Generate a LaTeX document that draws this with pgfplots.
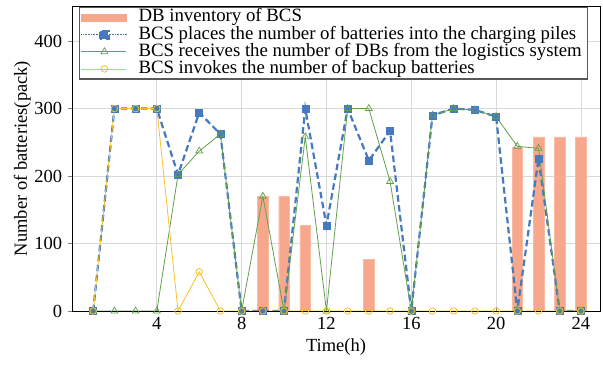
\documentclass[border=0pt]{standalone}
\usepackage{pgfplots}
\pgfplotsset{compat=1.18}
\usepackage{fontspec}
\setmainfont{Liberation Serif}
\definecolor{barc}{RGB}{247,167,140}
\definecolor{bluec}{RGB}{70,122,190}
\definecolor{greenc}{RGB}{98,160,78}
\definecolor{yellowc}{RGB}{246,192,40}
\begin{document}
\fontsize{17pt}{19pt}\selectfont
\begin{tikzpicture}
\begin{axis}[
  name=ax,
  scale only axis, width=528pt, height=305pt,
  xmin=0, xmax=24.9, ymin=0, ymax=452,
  xtick={4,8,12,16,20,24}, ytick={0,100,200,300,400},
  /pgf/number format/assume math mode=true,
  ticklabel style={font=\fontsize{18.5pt}{20pt}\selectfont},
  label style={font=\fontsize{18.5pt}{20pt}\selectfont},
  xlabel={Time(h)}, ylabel={Number of batteries(pack)},
  xlabel style={yshift=2pt},
  ylabel style={yshift=-8pt},
  grid=major, major grid style={black!15, line width=0.8pt},
  axis line style={black, line width=0.9pt},
  major tick length=4pt,
  ytick align=outside, ytick pos=left,
  xtick pos=bottom,
  legend style={at={(rel axis cs:0.013,0.997)}, anchor=north west,
    draw=black!65, line width=1.3pt, fill=white,
    font=\fontsize{18.8pt}{18pt}\selectfont,
    nodes={text height=12.5pt, text depth=3.8pt, inner ysep=0.4pt, inner xsep=4pt},
    row sep=0pt, inner sep=1.5pt},
  legend cell align=left,
]
\addplot[ybar, bar width=0.5, fill=barc, draw=barc!80!white, line width=0.4pt,
  area legend, legend image code/.code={\fill[barc] (2pt,-3.5pt) rectangle (47pt,3.5pt); \path (54pt,0pt);}]
  coordinates {(9,170) (10,170) (11,127) (14,77) (21,243) (22,258) (23,258) (24,258)};
\addlegendentry{DB inventory of BCS}
\addplot[color=bluec, line width=2.2pt, dash pattern=on 6.5pt off 3.5pt,
  mark=square*, mark size=3.5pt, mark options={solid, fill=bluec, line width=0.5pt},
  legend image code/.code={\draw[bluec, line width=0.6pt, densely dotted] (2pt,0pt) -- (47pt,0pt); \fill[bluec] (21pt,-4pt) rectangle (29pt,4pt); \path (54pt,0pt);}]
  coordinates {(1,0) (2,300) (3,300) (4,300) (5,202) (6,294) (7,262) (8,0) (9,0) (10,0) (11,300) (12,127) (13,300) (14,223) (15,267) (16,0) (17,290) (18,300) (19,298) (20,288) (21,0) (22,226) (23,0) (24,0)};
\addlegendentry{BCS places the number of batteries into the charging piles}
\addplot[color=greenc, line width=0.8pt,
  mark=triangle, mark size=4pt, mark options={solid, line width=0.7pt},
  legend image code/.code={\draw[greenc, line width=0.8pt] (2pt,0pt) -- (47pt,0pt); \draw[greenc, line width=0.7pt] plot[mark=triangle, mark size=4pt] coordinates {(25pt,0pt)}; \path (54pt,0pt);}]
  coordinates {(1,0) (2,0) (3,0) (4,0) (5,202) (6,237) (7,262) (8,0) (9,170) (10,0) (11,258) (12,0) (13,300) (14,300) (15,192) (16,0) (17,290) (18,300) (19,298) (20,288) (21,244) (22,241) (23,0) (24,0)};
\addlegendentry{BCS receives the number of DBs from the logistics system}
\addplot[color=yellowc, line width=0.8pt,
  mark=o, mark size=3.3pt, mark options={solid, line width=0.8pt},
  legend image code/.code={\draw[yellowc, line width=0.8pt] (2pt,0pt) -- (47pt,0pt); \draw[yellowc, line width=0.8pt] plot[mark=o, mark size=3.3pt] coordinates {(25pt,0pt)}; \path (54pt,0pt);}]
  coordinates {(1,0) (2,300) (3,300) (4,300) (5,0) (6,58) (7,0) (8,0) (9,0) (10,0) (11,0) (12,0) (13,0) (14,0) (15,0) (16,0) (17,0) (18,0) (19,0) (20,0) (21,0) (22,0) (23,0) (24,0)};
\addlegendentry{BCS invokes the number of backup batteries\hspace*{4pt}}
\end{axis}
\pgfresetboundingbox
\path ([shift={(-72pt,-54pt)}]ax.south west) rectangle ([shift={(3pt,6pt)}]ax.north east);
\end{tikzpicture}
\end{document}
